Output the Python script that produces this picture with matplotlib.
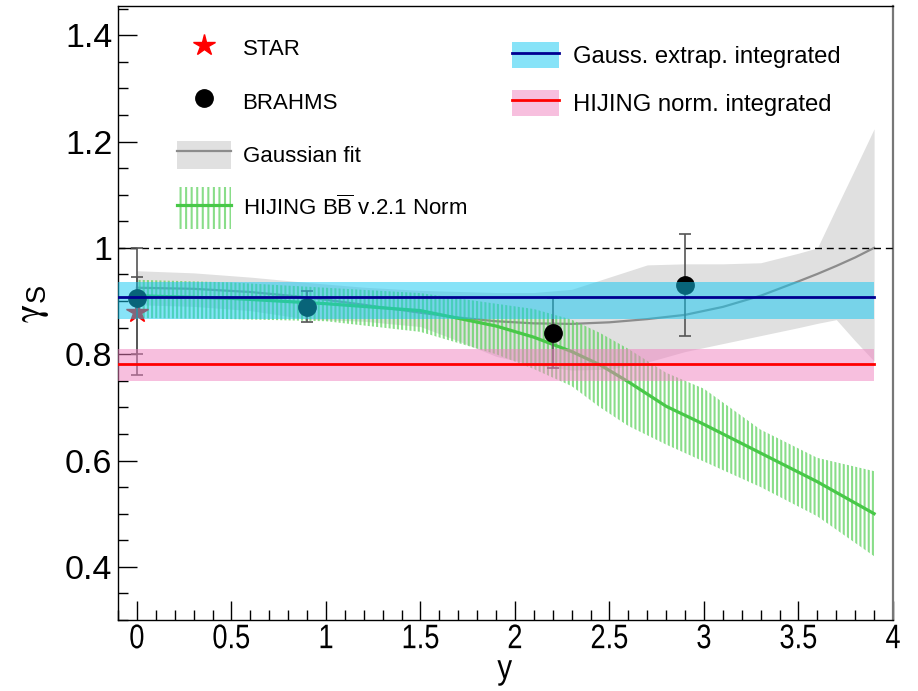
import matplotlib
matplotlib.use('Agg')
import matplotlib.pyplot as plt
from matplotlib.patches import Patch, Rectangle
from matplotlib.lines import Line2D
from matplotlib.legend_handler import HandlerPatch
from matplotlib.ticker import FixedLocator, MultipleLocator, FuncFormatter
from matplotlib.patheffects import AbstractPathEffect
from matplotlib.transforms import Affine2D

plt.rcParams['font.family'] = ['Liberation Sans', 'DejaVu Sans']
plt.rcParams['mathtext.fontset'] = 'custom'
plt.rcParams['mathtext.rm'] = 'Liberation Sans'
plt.rcParams['mathtext.it'] = 'Liberation Sans:italic'
plt.rcParams['mathtext.sf'] = 'Liberation Sans'
plt.rcParams['hatch.linewidth'] = 1.5


class Condensed(AbstractPathEffect):
    """Squeeze glyphs horizontally about their own centre (narrow digits)."""

    def __init__(self, sx=0.8):
        super().__init__()
        self.sx = sx

    def draw_path(self, renderer, gc, tpath, affine, rgbFace=None):
        ext = tpath.get_extents()
        cx = 0.5 * (ext.x0 + ext.x1)
        squeeze = Affine2D().translate(-cx, 0).scale(self.sx, 1).translate(cx, 0)
        renderer.draw_path(gc, tpath, squeeze + affine, rgbFace)


# ---- measurements ----
star_y = [0.0]
star_gamma = [0.88]
star_err = [0.12]

brahms_y = [0.0, 0.9, 2.2, 2.9]
brahms_gamma = [0.906, 0.889, 0.840, 0.930]
brahms_err_lo = [0.106, 0.029, 0.066, 0.095]
brahms_err_hi = [0.040, 0.029, 0.066, 0.097]

# ---- Gaussian fit with its uncertainty band ----
fit_y = [0.0, 0.3, 0.6, 0.9, 1.2, 1.5, 1.7, 1.9, 2.1, 2.3, 2.5, 2.7,
         2.9, 3.1, 3.3, 3.5, 3.6, 3.7, 3.8, 3.9]
fit_gamma = [0.925, 0.923, 0.917, 0.907, 0.893, 0.878, 0.869, 0.862, 0.858,
             0.857, 0.860, 0.866, 0.874, 0.889, 0.910, 0.937, 0.951, 0.966,
             0.982, 1.000]
fit_hi = [0.957, 0.953, 0.945, 0.935, 0.926, 0.920, 0.918, 0.916, 0.916,
          0.922, 0.945, 0.968, 0.970, 0.970, 0.972, 0.990, 1.000, 1.075,
          1.149, 1.224]
fit_lo = [0.893, 0.890, 0.882, 0.866, 0.862, 0.852, 0.825, 0.796, 0.780,
          0.770, 0.772, 0.785, 0.805, 0.820, 0.835, 0.850, 0.858, 0.865,
          0.825, 0.787]

# ---- HIJING BBbar v2.1 normalised ----
hij_y = [0.0, 0.5, 1.0, 1.5, 1.9, 2.1, 2.3, 2.45, 2.6, 2.8, 3.0, 3.3, 3.6, 3.9]
hij_gamma = [0.910, 0.905, 0.895, 0.882, 0.853, 0.832, 0.805, 0.780, 0.748,
             0.702, 0.668, 0.614, 0.560, 0.500]
hij_hi = [0.940, 0.935, 0.925, 0.915, 0.895, 0.885, 0.865, 0.840, 0.810,
          0.765, 0.735, 0.658, 0.605, 0.580]
hij_lo = [0.868, 0.866, 0.862, 0.842, 0.800, 0.772, 0.740, 0.700, 0.665,
          0.630, 0.598, 0.550, 0.495, 0.420]

# ---- rapidity-integrated values ----
integ_y = [-0.1, 3.9]
gauss_int = 0.907
gauss_int_lo, gauss_int_hi = 0.866, 0.935
hijing_int = 0.781
hijing_int_lo, hijing_int_hi = 0.750, 0.809

unity = 1.0

x_ticks = [0, 0.5, 1, 1.5, 2, 2.5, 3, 3.5, 4]
y_ticks = [0.4, 0.6, 0.8, 1.0, 1.2, 1.4]

# colours
c_grayband = '#e0e0e0'
c_grayline = '#8c8c8c'
c_green = '#48c848'
c_green_hatch = (0.36, 0.82, 0.36, 0.72)
c_cyan = '#10c8f2'
c_blue = '#000090'
c_pink = '#f080bf'
c_red = '#ff0000'
c_err = '#555555'

fig = plt.figure(figsize=(9.18, 6.91), dpi=100)
ax = fig.add_axes([118 / 918, 1 - 620 / 691, (893 - 118) / 918, (620 - 6) / 691])

ax.fill_between(fit_y, fit_lo, fit_hi, color=c_grayband, lw=0, zorder=1)
ax.plot(fit_y, fit_gamma, color=c_grayline, lw=1.6, zorder=2)

ax.fill_between(hij_y, hij_lo, hij_hi, facecolor='none', edgecolor=c_green_hatch,
                hatch='||||', lw=0, zorder=3)
ax.plot(hij_y, hij_gamma, color=c_green, lw=2.3, zorder=4)

ax.axhline(unity, color='black', lw=1.0, ls=(0, (5, 3.5)), zorder=5)

ax.errorbar(star_y, star_gamma, yerr=star_err, fmt='none', ecolor=c_err,
            elinewidth=1.2, capsize=4.5, capthick=1.2, zorder=6)
ax.plot(star_y, star_gamma, ls='none', marker='*', ms=16, color=c_red,
        mec=c_red, zorder=6.2)
ax.errorbar(brahms_y, brahms_gamma, yerr=[brahms_err_lo, brahms_err_hi],
            fmt='none', ecolor=c_err, elinewidth=1.2, capsize=4.5, capthick=1.2,
            zorder=6.4)
ax.plot(brahms_y, brahms_gamma, ls='none', marker='o', ms=12.5, color='black',
        zorder=6.5)

ax.fill_between(integ_y, [gauss_int_lo] * 2, [gauss_int_hi] * 2, color=c_cyan,
                alpha=0.5, lw=0, zorder=7)
ax.plot(integ_y, [gauss_int] * 2, color=c_blue, lw=2.0, zorder=8)
ax.fill_between(integ_y, [hijing_int_lo] * 2, [hijing_int_hi] * 2, color=c_pink,
                alpha=0.5, lw=0, zorder=9)
ax.plot(integ_y, [hijing_int] * 2, color=c_red, lw=2.0, zorder=10)

ax.set_xlim(-0.1, 4.0)
ax.set_ylim(0.3, 1.455)

ax.xaxis.set_major_locator(FixedLocator(x_ticks))
ax.xaxis.set_minor_locator(MultipleLocator(0.1))
ax.yaxis.set_major_locator(FixedLocator(y_ticks))
ax.yaxis.set_minor_locator(MultipleLocator(0.05))
fmt = FuncFormatter(lambda v, p: f'{v:g}')
ax.xaxis.set_major_formatter(fmt)
ax.yaxis.set_major_formatter(fmt)

ax.tick_params(which='both', direction='in', top=False, right=False,
               width=1.0, color='black')
ax.tick_params(which='major', length=14)
ax.tick_params(which='minor', length=7.5)
ax.tick_params(axis='y', labelsize=24.5, pad=4)
ax.tick_params(axis='x', labelsize=24.5, pad=3)
for lab in ax.get_xticklabels():
    lab.set_path_effects([Condensed(0.8)])

for s in ax.spines.values():
    s.set_linewidth(1.0)
    s.set_color('black')
ax.spines['right'].set_color('#777777')
ax.spines['right'].set_linewidth(1.6)

ax.set_xlabel('y', fontsize=25, path_effects=[Condensed(0.85)])
ax.xaxis.set_label_coords(0.499, -0.053)
ax.set_ylabel(r'$\mathrm{\gamma}_\mathregular{S}$', fontsize=28,
              math_fontfamily='stix')
ax.yaxis.set_label_coords(-0.086, 0.515)


# legend band for the HIJING curve is drawn taller than its row
def tall_box(legend, orig_handle, xdescent, ydescent, width, height, fontsize):
    extra = 5.0
    return Rectangle((-xdescent, -ydescent - extra), width, height + 2 * extra)


h_star = Line2D([], [], ls='none', marker='*', ms=16, color=c_red)
h_brahms = Line2D([], [], ls='none', marker='o', ms=12.5, color='black')
h_fit = (Patch(facecolor=c_grayband, lw=0),
         Line2D([], [], color=c_grayline, lw=1.6))
hij_patch = Patch(facecolor='none', edgecolor=c_green_hatch, hatch='|||', lw=0)
h_hij = (hij_patch, Line2D([], [], color=c_green, lw=2.3))
leg1 = ax.legend([h_star, h_brahms, h_fit, h_hij],
                 ['STAR', 'BRAHMS', 'Gaussian fit',
                  r'HIJING $\mathregular{B\overline{B}}$ v.2.1 Norm'],
                 handler_map={hij_patch: HandlerPatch(patch_func=tall_box)},
                 loc='upper left', bbox_to_anchor=(177 / 918, 1 - 34 / 691),
                 bbox_transform=fig.transFigure, frameon=False, fontsize=16,
                 handlelength=2.45, handleheight=1.55, handletextpad=0.5,
                 labelspacing=1.15, borderpad=0, borderaxespad=0)
ax.add_artist(leg1)

h_gint = (Patch(facecolor=c_cyan, alpha=0.5, lw=0),
          Line2D([], [], color=c_blue, lw=2.0))
h_hint = (Patch(facecolor=c_pink, alpha=0.5, lw=0),
          Line2D([], [], color=c_red, lw=2.0))
ax.legend([h_gint, h_hint], ['Gauss. extrap. integrated', 'HIJING norm. integrated'],
          loc='upper left', bbox_to_anchor=(512 / 918, 1 - 42 / 691),
          bbox_transform=fig.transFigure, frameon=False, fontsize=17.2,
          handlelength=1.95, handleheight=1.3, handletextpad=0.6,
          labelspacing=0.9, borderpad=0, borderaxespad=0)

fig.savefig('out.png', dpi=100)
